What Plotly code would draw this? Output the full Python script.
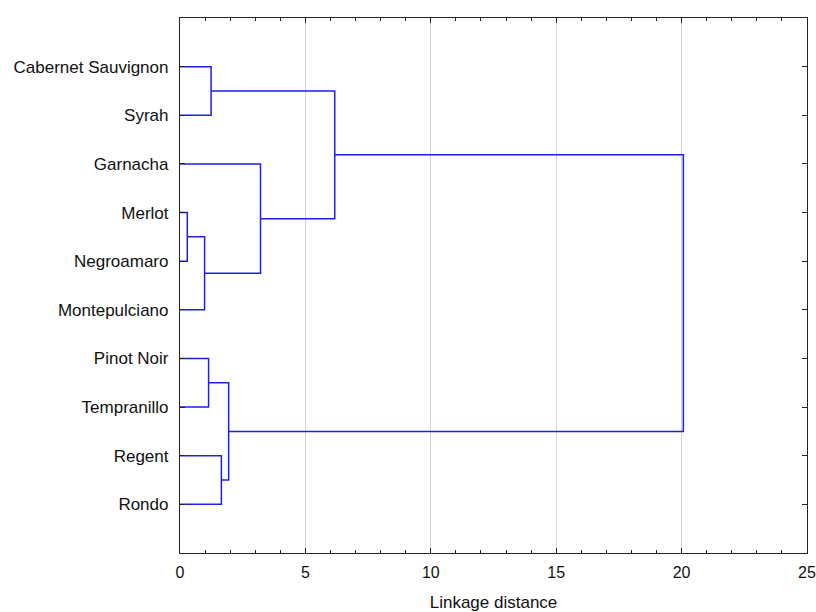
import plotly.graph_objects as go

# Leaves (top to bottom)
leaves = ["Cabernet Sauvignon", "Syrah", "Garnacha", "Merlot", "Negroamaro",
          "Montepulciano", "Pinot Noir", "Tempranillo", "Regent", "Rondo"]

# Merge steps: cluster Ck joins merge_left[k] and merge_right[k] at merge_dist[k]
merge_left = ["Cabernet Sauvignon", "Merlot", "C1", "Garnacha", "C0",
              "Pinot Noir", "Regent", "C5", "C4"]
merge_right = ["Syrah", "Negroamaro", "Montepulciano", "C2", "C3",
               "Tempranillo", "Rondo", "C6", "C7"]
merge_dist = [1.24, 0.29, 0.98, 3.21, 6.17, 1.14, 1.65, 1.94, 20.07]

x_ticks = [0, 5, 10, 15, 20, 25]

pos = {name: (0.0, i + 1) for i, name in enumerate(leaves)}
xs, ys = [], []
for k, (a, b, d) in enumerate(zip(merge_left, merge_right, merge_dist)):
    xa, ya = pos[a]
    xb, yb = pos[b]
    xs += [xa, d, d, xb, None]
    ys += [ya, ya, yb, yb, None]
    pos["C%d" % k] = (d, (ya + yb) / 2)

fig = go.Figure()
fig.add_trace(go.Scatter(x=xs, y=ys, mode="lines",
                         line=dict(color="#1f1fe8", width=1.5),
                         hoverinfo="skip", showlegend=False))

fam = "Liberation Sans, Arial, sans-serif"
ink = "#111111"

fig.update_layout(
    width=816, height=612,
    margin=dict(l=179.5, r=8.7, t=18.3, b=58.7),
    paper_bgcolor="white", plot_bgcolor="white",
    font=dict(family=fam, size=16, color=ink),
    xaxis=dict(
        range=[0, 25], tickvals=x_ticks, ticktext=[str(v) for v in x_ticks],
        showgrid=True, gridcolor="#d4d4d4", gridwidth=1, zeroline=False,
        showline=True, linecolor="#222222", linewidth=1.2, mirror="ticks",
        ticks="inside", ticklen=5, tickcolor="#222222",
        minor=dict(dtick=1, ticks="inside", ticklen=3, tickcolor="#222222", showgrid=False),
        ticklabelstandoff=5, automargin=False, ticklabeloverflow="allow",
        tickfont=dict(family=fam, size=16, color=ink),
        title=dict(text="Linkage distance", font=dict(family=fam, size=17, color=ink), standoff=15),
    ),
    yaxis=dict(
        range=[11, 0], tickvals=list(range(1, len(leaves) + 1)), ticktext=leaves,
        showgrid=False, zeroline=False,
        showline=True, linecolor="#222222", linewidth=1.2, mirror="ticks",
        ticks="inside", ticklen=5, tickcolor="#222222",
        ticklabelstandoff=7, automargin=False,
        tickfont=dict(family=fam, size=17, color=ink),
    ),
)

fig.write_html("out.html",
               config={"displayModeBar": False},
               post_script="document.body.style.margin='0';document.body.style.overflow='hidden';")
